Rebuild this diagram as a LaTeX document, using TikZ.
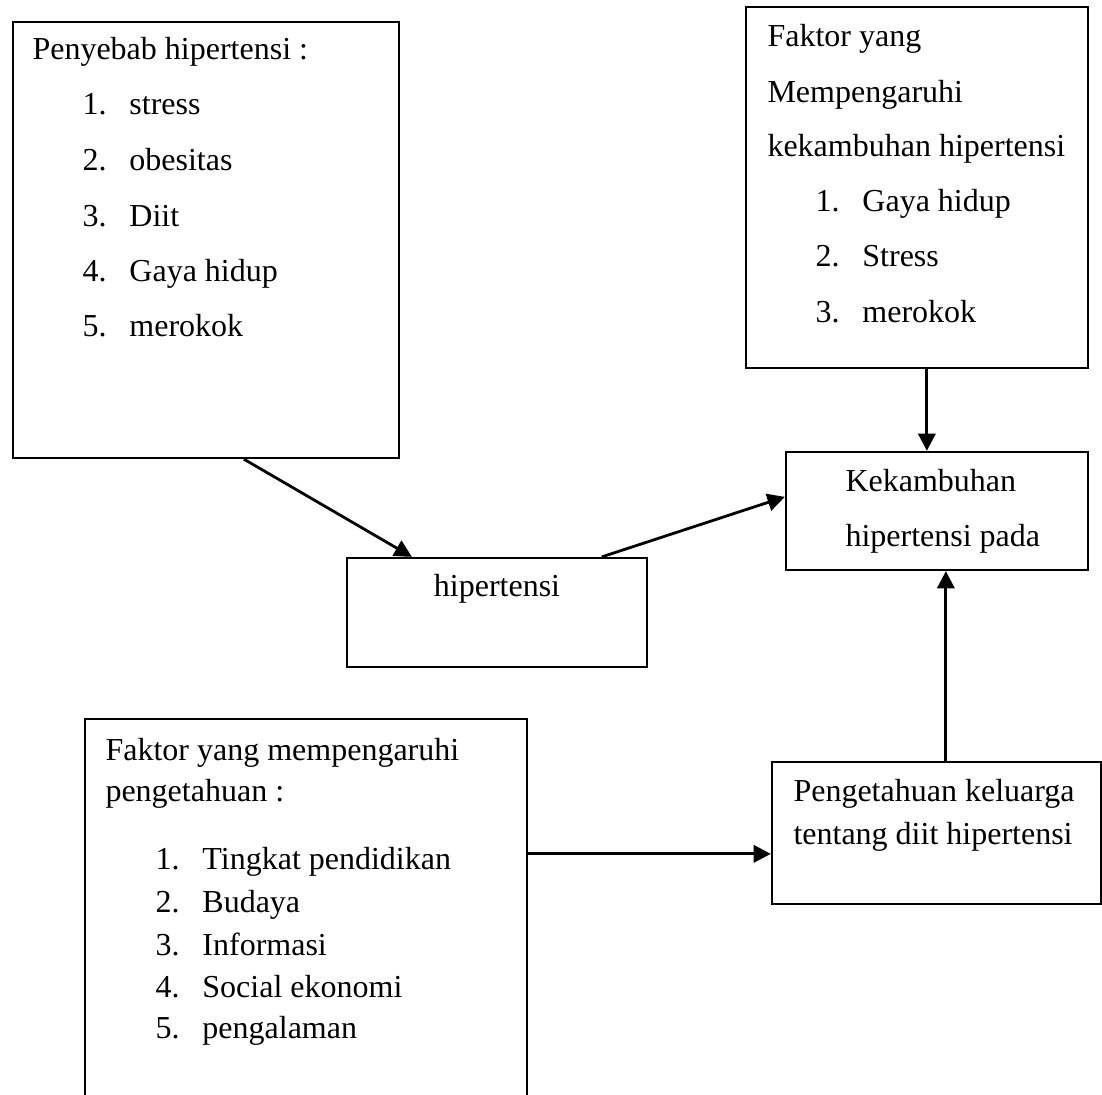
\documentclass[tikz,border=0pt]{standalone}
\usepackage{fontspec}
\setmainfont{Liberation Serif}
\usepackage{tikz}
\usetikzlibrary{arrows.meta,calc,fit}
\newcommand{\numitem}[2]{\makebox[17.6pt][l]{#1}#2}

\begin{document}
\begin{tikzpicture}[x=0.375pt,y=-0.375pt,
		box/.style={draw,line width=0.85pt,inner sep=0pt},
		txt/.style={anchor=base west,inner sep=0pt,font=\fontsize{12}{14}\selectfont},
		arrow/.style={-{Triangle[length=6.5pt,width=6.5pt]},line width=1.05pt}
		]
		\useasboundingbox (0,0) rectangle (1102,1095);
		\clip (0,0) rectangle (1102,1095);
		
		% boxes at manual positions
		\node[box,fit={(13,22) (399,458)}] (sebab) {};
		\node[box,fit={(746,7) (1088,368)}] (faktor) {};
		\node[box,fit={(786,452) (1088,570)}] (kambuh) {};
		\node[box,fit={(347,558) (647,667)}] (hip) {};
		\node[box,fit={(772,762) (1101,904)}] (tahu) {};
		\node[box,fit={(85,719) (527,1130)}] (faktahu) {};
		
		% texts
		\node[txt] (sebabT) at (32,60) {Penyebab hipertensi :};
		\node[txt] (sebab1) at (82,115) {\numitem{1.}{stress}};
		\node[txt] (sebab2) at (82,171) {\numitem{2.}{obesitas}};
		\node[txt] (sebab3) at (82,227) {\numitem{3.}{Diit}};
		\node[txt] (sebab4) at (82,282) {\numitem{4.}{Gaya hidup}};
		\node[txt] (sebab5) at (82,337) {\numitem{5.}{merokok}};
		
		\node[txt] (faktorT1) at (767,47) {Faktor yang};
		\node[txt] (faktorT2) at (767,103) {Mempengaruhi};
		\node[txt] (faktorT3) at (767,157) {kekambuhan hipertensi};
		\node[txt] (faktor1) at (815,212) {\numitem{1.}{Gaya hidup}};
		\node[txt] (faktor2) at (815,267) {\numitem{2.}{Stress}};
		\node[txt] (faktor3) at (815,323) {\numitem{3.}{merokok}};
		
		\node[txt] (kambuhT1) at (845,492) {Kekambuhan};
		\node[txt] (kambuhT2) at (845,547) {hipertensi pada};
		
		\node[txt,anchor=base] (hipT) at (497,597) {hipertensi};
		
		\node[txt] (faktahuT1) at (105,760) {Faktor yang mempengaruhi};
		\node[txt] (faktahuT2) at (105,801) {pengetahuan :};
		\node[txt] (faktahu1) at (155,870) {\numitem{1.}{Tingkat pendidikan}};
		\node[txt] (faktahu2) at (155,913) {\numitem{2.}{Budaya}};
		\node[txt] (faktahu3) at (155,955) {\numitem{3.}{Informasi}};
		\node[txt] (faktahu4) at (155,997) {\numitem{4.}{Social ekonomi}};
		\node[txt] (faktahu5) at (155,1039) {\numitem{5.}{pengalaman}};
		
		\node[txt] (tahuT1) at (793,801) {Pengetahuan keluarga};
		\node[txt] (tahuT2) at (793,845) {tentang diit hipertensi};
		
		% arrows
		\draw[arrow] ($(sebab.south west)+(232,0)$) -- ($(hip.north west)+(66,0)$);
		\draw[arrow] ($(hip.north west)+(256,0)$) -- ($(kambuh.north west)+(0,46)$);
		\draw[arrow] ($(faktor.south west)+(182,0)$) coordinate (f1) -- (f1 |- kambuh.north);
		\draw[arrow] ($(tahu.north west)+(175,0)$) coordinate (t1) -- (t1 |- kambuh.south);
		\draw[arrow] ($(faktahu.north east)+(0,136)$) coordinate (k1) -- (k1 -| tahu.west);
	\end{tikzpicture}
\end{document}
